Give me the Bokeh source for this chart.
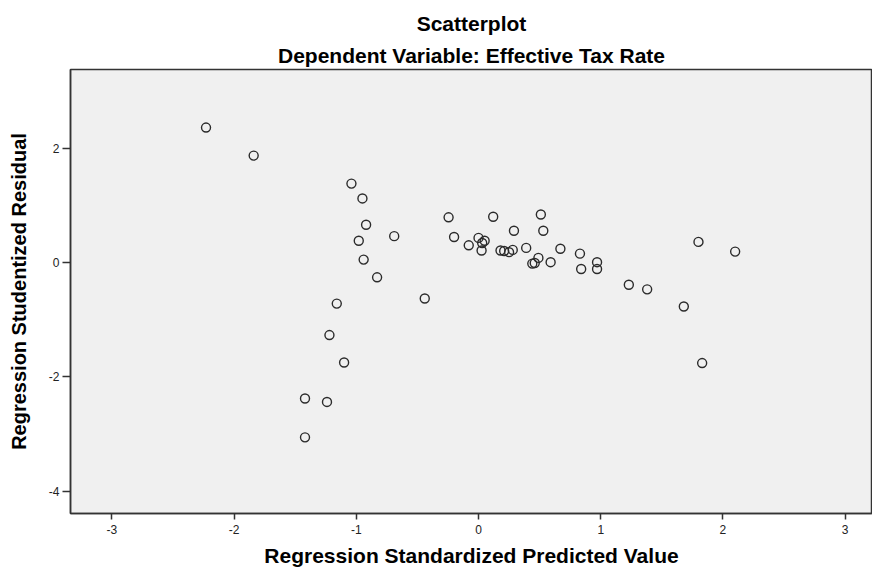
from bokeh.plotting import figure
from bokeh.models import Range1d, Title, FixedTicker, ColumnDataSource, PrintfTickFormatter
from bokeh.embed import file_html
from bokeh.resources import INLINE

# ---- data ----
predicted = [-2.23, -1.84, -1.04, -0.95, -0.92, -0.69, -0.98, -0.94, -0.83,
             -1.16, -1.22, -1.10, -1.42, -1.24, -1.42, -0.44,
             -0.245, -0.20, -0.08, 0.00, 0.05, 0.03, 0.025, 0.12,
             0.18, 0.21, 0.25, 0.28, 0.29, 0.39, 0.49, 0.44, 0.46,
             0.51, 0.53, 0.59, 0.67, 0.83, 0.84, 0.97, 0.97,
             1.23, 1.38, 1.68, 1.80, 2.10, 1.83]
residual = [2.36, 1.87, 1.38, 1.12, 0.66, 0.46, 0.38, 0.05, -0.26,
            -0.72, -1.27, -1.75, -2.38, -2.44, -3.06, -0.63,
            0.79, 0.445, 0.30, 0.43, 0.38, 0.34, 0.21, 0.80,
            0.21, 0.20, 0.18, 0.22, 0.555, 0.255, 0.08, -0.02, -0.01,
            0.84, 0.555, 0.005, 0.24, 0.155, -0.115, 0.005, -0.115,
            -0.39, -0.47, -0.77, 0.36, 0.19, -1.76]
x_ticks = [-3, -2, -1, 0, 1, 2, 3]
y_ticks = [-4, -2, 0, 2]
title_text = "Scatterplot"
subtitle_text = "Dependent Variable: Effective Tax Rate"
x_label = "Regression Standardized Predicted Value"
y_label = "Regression Studentized Residual"

FONT = "Liberation Sans"

x_lo, x_hi = -3.339, 3.224
y_lo, y_hi = -4.392, 3.376

p = figure(width=872, height=569, output_backend="svg", toolbar_location=None,
           x_range=Range1d(x_lo, x_hi), y_range=Range1d(y_lo, y_hi),
           min_border_left=70, min_border_right=0, min_border_top=69,
           min_border_bottom=52)

p.background_fill_color = "#f0f0f0"
p.border_fill_color = "white"
p.outline_line_color = "#333333"
p.outline_line_width = 1.5
p.xgrid.visible = False
p.ygrid.visible = False

src = ColumnDataSource(dict(x=predicted, y=residual))
p.scatter("x", "y", source=src, marker="circle", size=9, fill_color=None,
          line_color="#2b2b2b", line_width=1.4)

for ax in (p.xaxis[0], p.yaxis[0]):
    ax.axis_line_color = "#333333"
    ax.axis_line_width = 1.5
    ax.major_tick_line_color = "#333333"
    ax.major_tick_line_width = 1.5
    ax.major_tick_in = 0
    ax.minor_tick_line_color = None
    ax.major_label_text_font = FONT
    ax.major_label_text_font_size = "12px"
    ax.major_label_text_color = "#222222"
    ax.axis_label_text_font = FONT
    ax.axis_label_text_font_style = "bold"
    ax.axis_label_text_color = "black"
    ax.formatter = PrintfTickFormatter(format="%d")

p.xaxis.ticker = FixedTicker(ticks=x_ticks)
p.yaxis.ticker = FixedTicker(ticks=y_ticks)
p.xaxis.major_tick_out = 6
p.yaxis.major_tick_out = 8
p.xaxis.major_label_standoff = 5
p.yaxis.major_label_standoff = 3
p.xaxis.axis_label = x_label
p.yaxis.axis_label = y_label
p.xaxis.axis_label_text_font_size = "21px"
p.yaxis.axis_label_text_font_size = "20px"
p.xaxis.axis_label_standoff = 7
p.yaxis.axis_label_standoff = 16

# outer (top) title
p.title.text = title_text
p.title.align = "center"
p.title.text_font = FONT
p.title.text_font_style = "bold"
p.title.text_font_size = "21px"
p.title.text_color = "black"
p.title.standoff = 7

# inner title, next to the plot area
t2 = Title(text=subtitle_text, align="center", text_font=FONT,
           text_font_style="bold", text_font_size="21px", text_color="black",
           standoff=6)
p.add_layout(t2, "above")

open("out.html", "w").write(file_html(p, INLINE))
